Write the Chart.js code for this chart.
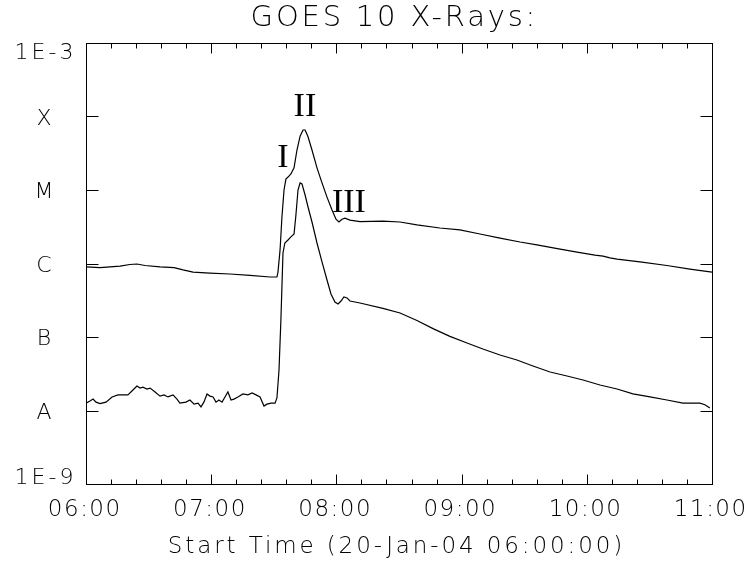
<!DOCTYPE html>
<html>
<head>
<meta charset="utf-8">
<script src="https://cdn.jsdelivr.net/npm/chart.js@4"></script>
<style>
  html, body { margin: 0; padding: 0; background: #fff; }
  #chart-container { width: 749px; height: 565px; }
</style>
</head>
<body>
<div id="chart-container"><canvas id="myChart" width="749" height="565"></canvas></div>
<script>
// minutes after 06:00 and flux (W/m^2), long channel (1-8 A)
const longTimes = [0, 6.7, 16.3, 21, 24.4, 28.3, 35.5, 42.2, 46.5, 51.3, 59.4, 69, 78.6, 88.2, 91.5,
  92, 93, 93.9, 94.9, 95.8, 96.8, 98.2, 99.7, 101.1, 102.6, 104, 105, 106.4, 108.3, 110.7, 113.1,
  115.5, 117.9, 119.8, 121.2, 122.7, 124.1, 126.5, 131.3, 142.3, 150.5, 158.6, 169.6, 179.2, 188.8,
  198.4, 208, 216.1, 227.2, 235.3, 243.9, 247.8, 251.1, 254.5, 265.5, 278.4, 289.4, 300];
const longFlux = [9.0e-7, 8.8e-7, 9.2e-7, 9.7e-7, 9.85e-7, 9.4e-7, 9.0e-7, 8.8e-7, 8.2e-7, 7.65e-7,
  7.4e-7, 7.2e-7, 6.9e-7, 6.55e-7, 6.55e-7,
  7.65e-7, 1.53e-6, 4.3e-6, 1.0e-5, 1.41e-5, 1.5e-5, 1.65e-5, 2.0e-5, 3.5e-5, 5.4e-5, 6.55e-5,
  6.55e-5, 5.3e-5, 3.5e-5, 2.0e-5, 1.25e-5,
  8.0e-6, 5.35e-6, 4.0e-6, 3.67e-6, 4.0e-6, 4.15e-6, 3.9e-6, 3.72e-6, 3.78e-6, 3.67e-6, 3.35e-6,
  3.04e-6, 2.86e-6, 2.52e-6,
  2.22e-6, 1.96e-6, 1.79e-6, 1.57e-6, 1.43e-6, 1.30e-6, 1.26e-6, 1.19e-6, 1.15e-6, 1.05e-6,
  9.4e-7, 8.4e-7, 7.65e-7];

// short channel (0.5-4 A)
const shortTimes = [0, 1.9, 3.4, 4.8, 6.7, 9.6, 12.5, 15.3, 20.1, 22.5, 24.4, 25.9, 27.3, 29.2, 30.7,
  33.1, 35.5, 37.4, 39.3, 41.7, 43.6, 45, 47.9, 49.8, 51.8, 53.7, 55.1, 56.5, 58, 59.4, 60.9, 62.3,
  63.7, 65.2, 66.6, 68, 69.5, 70.9, 72.8, 75.2, 77.6, 79.6, 81.5, 83.4, 85.3, 86.7, 88.7, 90.6,
  91.5, 92.5, 93.4, 94.4, 95.3, 96.8, 98.2, 99.7, 100.6, 101.6, 102.6, 103.5, 105, 106.4, 108.3,
  110.7, 113.1, 115.5, 117.4, 119.3, 120.8, 122.2, 123.6, 125.1, 126.5, 131.3, 142.3, 150.5,
  158.6, 166.3, 174.4, 182.6, 190.2, 198.4, 206.5, 214.2, 222.4, 230.5, 238.2, 246.3, 254.5,
  262.1, 270.3, 278.4, 286.1, 294.2, 296.6, 299];
const shortFlux = [1.26e-8, 1.35e-8, 1.43e-8, 1.30e-8, 1.24e-8, 1.30e-8, 1.53e-8, 1.63e-8, 1.63e-8,
  1.90e-8, 2.15e-8, 2.02e-8, 2.08e-8, 1.96e-8, 2.02e-8,
  1.79e-8, 1.57e-8, 1.63e-8, 1.53e-8, 1.63e-8, 1.43e-8, 1.26e-8, 1.30e-8, 1.39e-8, 1.22e-8,
  1.26e-8, 1.12e-8, 1.30e-8, 1.68e-8, 1.57e-8, 1.53e-8, 1.30e-8,
  1.39e-8, 1.30e-8, 1.53e-8, 1.79e-8, 1.39e-8, 1.43e-8, 1.53e-8, 1.68e-8, 1.63e-8, 1.73e-8,
  1.63e-8, 1.53e-8, 1.15e-8, 1.22e-8, 1.26e-8, 1.26e-8,
  1.48e-8, 3.56e-8, 1.70e-7, 1.39e-6, 1.90e-6, 2.09e-6, 2.30e-6, 2.52e-6, 4.57e-6, 1.0e-5,
  1.25e-5, 1.21e-5, 8.55e-6, 5.87e-6, 3.67e-6,
  1.90e-6, 1.05e-6, 5.97e-7, 3.85e-7, 2.99e-7, 2.81e-7, 3.09e-7, 3.50e-7, 3.40e-7, 3.09e-7,
  2.90e-7, 2.45e-7, 2.12e-7,
  1.68e-7, 1.30e-7, 1.02e-7, 8.3e-8, 6.87e-8, 5.69e-8, 4.86e-8, 4.03e-8, 3.34e-8, 2.95e-8,
  2.60e-8, 2.22e-8, 1.96e-8,
  1.68e-8, 1.53e-8, 1.39e-8, 1.26e-8, 1.26e-8, 1.20e-8, 1.08e-8];

// axis ticks and labels
const xTickValues = [0, 60, 120, 180, 240, 300];
const xTickLabels = ["06:00", "07:00", "08:00", "09:00", "10:00", "11:00"];
const yTickValues = [1e-3, 1e-4, 1e-5, 1e-6, 1e-7, 1e-8, 1e-9];
const yTickLabels = ["1E-3", "X", "M", "C", "B", "A", "1E-9"];

// flare phase labels
const peakLabels = ["I", "II", "III"];
const peakTimes = [94.4, 104.9, 126];
const peakFlux = [3.0e-5, 1.48e-4, 7.3e-6];

const chartTitle = "GOES 10 X-Rays:";
const xTitle = "Start Time (20-Jan-04 06:00:00)";

const FONT = "'DejaVu Sans', sans-serif";

function toPoints(xs, ys) {
  return xs.map((x, i) => ({ x: x, y: ys[i] }));
}

// draws text centred on its cap height, with letter spacing
function drawText(ctx, text, x, yCenter, size, spacing, align) {
  ctx.save();
  ctx.font = "200 " + size + "px " + FONT;
  ctx.letterSpacing = spacing + "px";
  ctx.fillStyle = "#000";
  ctx.textBaseline = "alphabetic";
  const w = ctx.measureText(text).width - spacing;
  let left = x;
  if (align === "center") left = x - w / 2;
  else if (align === "right") left = x - w;
  ctx.textAlign = "left";
  ctx.fillText(text, left, yCenter + size * 0.729 / 2);
  ctx.restore();
}

// frame, inward ticks and all the texts (IDL style)
const idlAxes = {
  id: "idlAxes",
  afterDraw(chart) {
    const ctx = chart.ctx;
    const a = chart.chartArea;
    const xs = chart.scales.x;
    const ys = chart.scales.y;
    const top = Math.round(a.top) + 0.5;
    const bottom = Math.round(a.bottom) + 0.5;
    const left = Math.round(a.left) + 0.5;
    const right = Math.round(a.right) + 0.5;
    ctx.save();
    ctx.strokeStyle = "#000";
    ctx.lineWidth = 1;
    ctx.strokeRect(left, top, right - left, bottom - top);

    ctx.beginPath();
    // x ticks, major every hour, minor every 12 minutes
    for (let t = 0; t <= 300; t += 12) {
      const px = Math.round(xs.getPixelForValue(t)) + 0.5;
      const len = t % 60 === 0 ? 10 : 5;
      ctx.moveTo(px, bottom);
      ctx.lineTo(px, bottom - len);
      ctx.moveTo(px, top);
      ctx.lineTo(px, top + len);
    }
    // y ticks on both sides
    yTickValues.forEach((v) => {
      const py = Math.round(ys.getPixelForValue(v)) + 0.5;
      ctx.moveTo(left, py);
      ctx.lineTo(left + 12, py);
      ctx.moveTo(right, py);
      ctx.lineTo(right - 12, py);
    });
    ctx.stroke();
    ctx.restore();

    // y labels, kept inside the axis height
    yTickValues.forEach((v, i) => {
      let py = ys.getPixelForValue(v);
      py = Math.min(Math.max(py, a.top + 8), a.bottom - 8);
      drawText(ctx, yTickLabels[i], 44, py, 22, 3, "center");
    });
    // x labels
    xTickValues.forEach((v, i) => {
      drawText(ctx, xTickLabels[i], xs.getPixelForValue(v) - 2, 508, 23, 1.5, "center");
    });
    drawText(ctx, xTitle, 395, 545, 23, 2.9, "center");
    drawText(ctx, chartTitle, 393, 15, 29, 2.8, "center");

    // phase labels
    ctx.save();
    ctx.font = "34px 'Liberation Serif', serif";
    ctx.fillStyle = "#000";
    ctx.textAlign = "center";
    ctx.textBaseline = "alphabetic";
    peakLabels.forEach((s, i) => {
      const px = xs.getPixelForValue(peakTimes[i]);
      const py = ys.getPixelForValue(peakFlux[i]);
      ctx.fillText(s, px, py + 12);
    });
    ctx.restore();
  },
};

const ctx = document.getElementById("myChart").getContext("2d");
const chart = new Chart(ctx, {
  type: "line",
  data: {
    datasets: [
      {
        label: "1-8 A",
        data: toPoints(longTimes, longFlux),
        borderColor: "#000",
        borderWidth: 1.2,
        pointRadius: 0,
        tension: 0,
        fill: false,
      },
      {
        label: "0.5-4 A",
        data: toPoints(shortTimes, shortFlux),
        borderColor: "#000",
        borderWidth: 1.2,
        pointRadius: 0,
        tension: 0,
        fill: false,
      },
    ],
  },
  options: {
    responsive: false,
    animation: false,
    layout: { padding: { left: 86, right: 37, top: 43, bottom: 81 } },
    plugins: {
      legend: { display: false },
      title: { display: false },
      tooltip: { enabled: false },
    },
    scales: {
      x: { type: "linear", min: 0, max: 300, display: false },
      y: { type: "logarithmic", min: 1e-9, max: 1e-3, display: false },
    },
  },
  plugins: [idlAxes],
});
</script>
</body>
</html>
